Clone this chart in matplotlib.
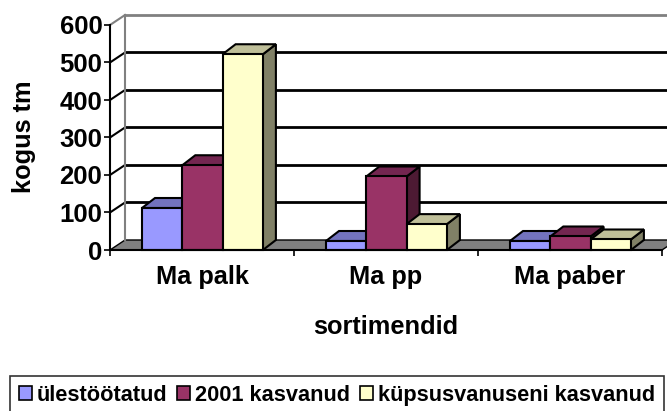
import matplotlib
matplotlib.use('Agg')
import matplotlib.pyplot as plt
from matplotlib.patches import Polygon, Rectangle, Patch

plt.rcParams['font.family'] = ['Liberation Sans', 'DejaVu Sans']
plt.rcParams['font.weight'] = 'bold'

categories = ['Ma palk', 'Ma pp', 'Ma paber']
series = ['ülestöötatud', '2001 kasvanud', 'küpsusvanuseni kasvanud']
values = [
    [112, 24, 24],     # ülestöötatud
    [226, 196, 36],    # 2001 kasvanud
    [522, 69, 28],     # küpsusvanuseni kasvanud
]
yticks = [0, 100, 200, 300, 400, 500, 600]

# front, top, side shades per series
colors = [
    ('#9999FF', '#7373BF', '#4D4D80'),
    ('#993366', '#732650', '#4D1A33'),
    ('#FFFFCC', '#BFBF99', '#808066'),
]

fig = plt.figure(figsize=(6.67, 4.11), dpi=100)
ax = fig.add_axes([110 / 667, (411 - 250) / 411, 552 / 667, 225 / 411])
ax.set_xlim(0, 3)
ax.set_ylim(0, 600)

# depth offsets (data units): 184 px per category, 0.375 px per unit
wdx, wdy = 15 / 184, 10 / 0.375
bdx, bdy = 13 / 184, 10 / 0.375

# floor
ax.add_patch(Polygon([(0, 0), (3, 0), (3 + wdx, wdy), (wdx, wdy)], closed=True,
                     facecolor='#808080', edgecolor='black', lw=1, clip_on=False, zorder=1))
# back wall + side wall gridlines
for v in yticks[1:]:
    c = '#808080' if v == 600 else 'black'
    ax.plot([wdx, 3 + wdx], [v + wdy, v + wdy], color=c, lw=2, clip_on=False, zorder=1.5)
    ax.plot([0, wdx], [v, v + wdy], color=c, lw=1.5, clip_on=False, zorder=1.5)
ax.plot([wdx, wdx], [wdy, 600 + wdy], color='#808080', lw=1.5, clip_on=False, zorder=1.5)

bw = 40.3 / 184
off = 32 / 184
for i, vals in enumerate(values):
    front, top, side = colors[i]
    for c, v in enumerate(vals):
        x0 = c + off + i * bw
        z = 3 + i
        ax.add_patch(Polygon([(x0 + bw, 0), (x0 + bw + bdx, bdy), (x0 + bw + bdx, v + bdy), (x0 + bw, v)],
                             closed=True, facecolor=side, edgecolor='black', lw=1.5, clip_on=False, zorder=z))
        ax.add_patch(Polygon([(x0, v), (x0 + bw, v), (x0 + bw + bdx, v + bdy), (x0 + bdx, v + bdy)],
                             closed=True, facecolor=top, edgecolor='black', lw=1.5, clip_on=False, zorder=z))
        ax.add_patch(Rectangle((x0, 0), bw, v, facecolor=front, edgecolor='black', lw=1.5,
                               clip_on=False, zorder=z))

for s in ['top', 'right']:
    ax.spines[s].set_visible(False)
for s in ['left', 'bottom']:
    ax.spines[s].set_linewidth(1.5)
    ax.spines[s].set_zorder(10)

fs = 18.3
ax.set_yticks(yticks)
ax.set_yticklabels([str(t) for t in yticks], fontsize=18.5, fontweight='bold')
ax.tick_params(axis='y', length=4.5, width=1.2, pad=1)
ax.set_xticks([0, 1, 2, 3])
ax.set_xticklabels([])
ax.set_xticks([0.5, 1.5, 2.5], minor=True)
ax.set_xticklabels(categories, minor=True, fontsize=fs, fontweight='bold')
ax.tick_params(axis='x', which='major', length=4.5, width=1.2)
ax.tick_params(axis='x', which='minor', length=0, pad=11)

ax.set_xlabel('sortimendid', fontsize=fs, fontweight='bold')
ax.xaxis.label.set_va('center')
ax.xaxis.set_label_coords(0.5, (250 - 327) / 225)
ax.set_ylabel('kogus tm', fontsize=fs, fontweight='bold')
ax.yaxis.label.set_va('center')
ax.yaxis.set_label_coords((24 - 110) / 552, (250 - 137) / 225)

handles = [Patch(facecolor=colors[i][0], edgecolor='black', lw=1.2) for i in range(3)]
leg = fig.legend(handles, series, loc='upper left',
                 bbox_to_anchor=(10 / 667, (411 - 376) / 411, 654 / 667, 0.0), mode='expand', ncol=3,
                 prop={'size': 15.7, 'weight': 'bold'}, frameon=True, fancybox=False,
                 handlelength=0.6, handleheight=0.6, handletextpad=0.23, columnspacing=0.45,
                 borderpad=0.4, borderaxespad=0)
leg.get_frame().set_edgecolor('black')
leg.get_frame().set_linewidth(1.2)

fig.savefig('out.png', dpi=100)
